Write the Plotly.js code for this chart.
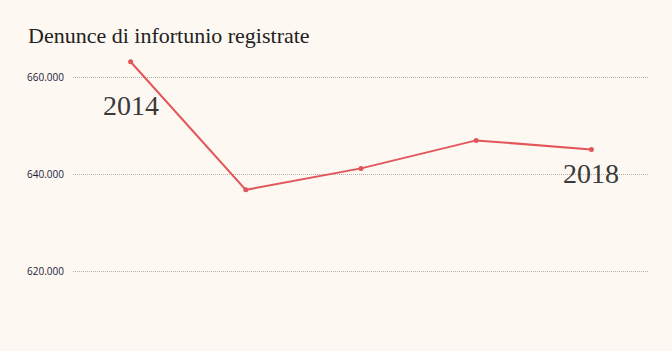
<!DOCTYPE html>
<html>
<head>
<meta charset="utf-8">
<script src="https://cdn.plot.ly/plotly-3.0.1.min.js"></script>
<style>html,body{margin:0;padding:0;background:#fdf8f1;}</style>
</head>
<body>
<div id="chart" style="width:672px;height:351px;"></div>
<script>
const years = [2014, 2015, 2016, 2017, 2018];
const denunce = [663260, 636820, 641240, 647020, 645160];
const tickValues = [620000, 640000, 660000];
const labelYears = ["2014", "2018"];
const labelY = [654200, 640100];

const trace = {
  x: years, y: denunce, type: 'scatter', mode: 'lines+markers',
  line: {color: '#e2555a', width: 2},
  marker: {color: '#e2555a', size: 5},
  hoverinfo: 'skip'
};

const layout = {
  width: 672, height: 351,
  paper_bgcolor: '#fdf8f1', plot_bgcolor: '#fdf8f1',
  separators: ',.',
  margin: {l: 73, r: 23, t: 55, b: 11},
  showlegend: false,
  title: {
    text: 'Denunce di infortunio registrate',
    x: 28/672, xanchor: 'left', xref: 'container',
    y: 1 - 35/351, yanchor: 'middle', yref: 'container',
    font: {family: 'Liberation Serif, serif', size: 22, color: '#222'}
  },
  xaxis: {
    range: [2013.5, 2018.5], showgrid: false, zeroline: false,
    showticklabels: false, showline: false, ticks: ''
  },
  yaxis: {
    range: [605820, 664644], tickvals: tickValues, tickformat: ',.0f',
    showgrid: true, gridcolor: '#b5aea6', griddash: '1px,1px', gridwidth: 1,
    zeroline: false, showline: false, ticks: '', ticklabelstandoff: 8,
    tickfont: {family: 'Open Sans, sans-serif', size: 10, color: '#1a1a3a'}
  },
  annotations: labelYears.map((t, i) => ({
    x: Number(t), y: labelY[i], xref: 'x', yref: 'y', text: t,
    showarrow: false, xanchor: 'center', yanchor: 'middle',
    font: {family: 'Liberation Serif, serif', size: 28, color: '#3a3a3a'}
  }))
};

Plotly.newPlot('chart', [trace], layout, {displayModeBar: false, staticPlot: true});
</script>
</body>
</html>
